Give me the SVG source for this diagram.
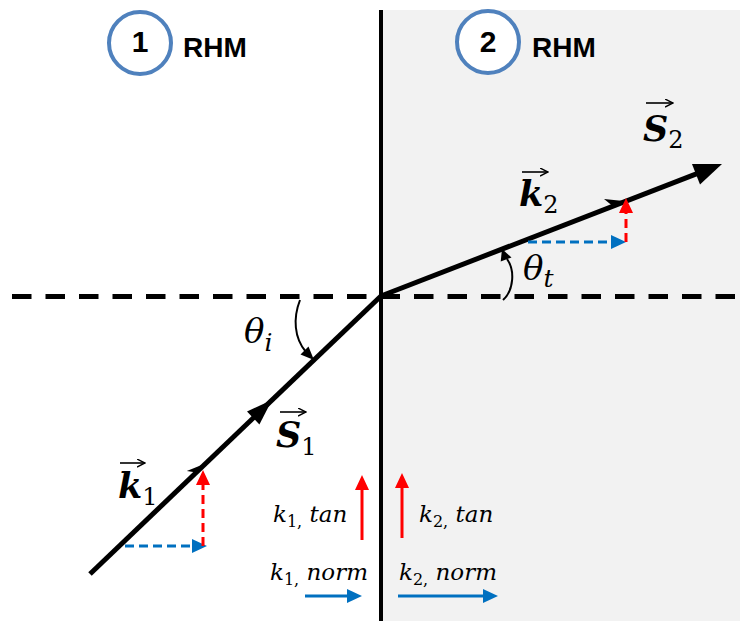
<svg xmlns="http://www.w3.org/2000/svg" width="740" height="621" viewBox="0 0 740 621">
<style>
.lbl{font-family:"DejaVu Serif","Liberation Serif",serif;font-style:italic;font-size:23px;fill:#000}
.sub{font-family:"DejaVu Serif","Liberation Serif",serif;font-style:normal;font-size:16px}
.vec{font-family:"DejaVu Serif","Liberation Serif",serif;font-style:italic;font-weight:bold;font-size:35px;fill:#000}
.vsub{font-family:"DejaVu Serif","Liberation Serif",serif;font-style:normal;font-weight:normal;font-size:24px;fill:#000}
.th{font-family:"DejaVu Serif","Liberation Serif",serif;font-style:italic;font-size:34px;fill:#000}
.ths{font-family:"DejaVu Serif","Liberation Serif",serif;font-style:italic;font-size:25px;fill:#000}
.rhm{font-family:"Liberation Sans",Arial,sans-serif;font-weight:bold;font-size:28px;fill:#000}
.num{font-family:"Liberation Sans",Arial,sans-serif;font-weight:bold;font-size:30px;fill:#000;text-anchor:middle}
.circ{fill:#fff;stroke:#4f81bd;stroke-width:4}
.ray{stroke:#000;stroke-width:5;fill:none}
.red{stroke:#ff0000;stroke-width:3;fill:none}
.blue{stroke:#0070c0;stroke-width:3;fill:none}
.dash{stroke-dasharray:9 5}
.arc{stroke:#000;stroke-width:2;fill:none}
.va{stroke:#000;stroke-width:1.6;fill:none}
</style>
<defs>
<marker id="mr" markerUnits="userSpaceOnUse" viewBox="0 0 15 14" markerWidth="15" markerHeight="14" refX="0" refY="7" orient="auto"><path d="M0,0 L15,7 L0,14 z" fill="#ff0000"/></marker>
<marker id="mb" markerUnits="userSpaceOnUse" viewBox="0 0 15 14" markerWidth="15" markerHeight="14" refX="0" refY="7" orient="auto"><path d="M0,0 L15,7 L0,14 z" fill="#0070c0"/></marker>
<marker id="mv" markerUnits="userSpaceOnUse" viewBox="0 0 9 9" markerWidth="9" markerHeight="9" refX="8" refY="4.5" orient="auto"><path d="M0,0.5 L8,4.5 L0,8.5" fill="none" stroke="#000" stroke-width="1.4"/></marker>
</defs>
<rect x="381" y="10" width="359" height="611" fill="#f2f2f2"/>
<g id="connectors">
<line x1="12" y1="296.5" x2="740" y2="296.5" stroke="#000" stroke-width="5" stroke-dasharray="19.5 14"/>
<line x1="381" y1="10" x2="381" y2="621" stroke="#000" stroke-width="4"/>
<line class="ray" x1="90" y1="574" x2="381" y2="296"/>
<line class="ray" x1="381" y1="296" x2="697" y2="173.6"/>
<polygon points="722,164 700,184.4 692,163.9" fill="#000"/>
<polygon points="272,400 259.4,424.5 247,411.5" fill="#000"/>
<polygon points="206,463.3 186.8,471 196.5,472.4" fill="#000"/>
<polygon points="626,201.2 604,199 613,206.3" fill="#000"/>
<path class="arc" d="M300,300 C293,318 294,338 306,352"/>
<polygon points="314,360 300.5,354.5 308.5,346.5" fill="#000"/>
<path class="arc" d="M503,300 C514,290 515,270 507,259"/>
<polygon points="502,249 511.5,257.5 500.7,261.5" fill="#000"/>
<line class="blue dash" x1="125" y1="546" x2="192" y2="546" marker-end="url(#mb)"/>
<line class="red dash" x1="203" y1="546" x2="203" y2="485" marker-end="url(#mr)"/>
<line class="blue dash" x1="528" y1="242" x2="611" y2="242" marker-end="url(#mb)"/>
<line class="red dash" x1="626" y1="242" x2="626" y2="213" marker-end="url(#mr)"/>
<line class="red" x1="362" y1="540" x2="362" y2="490" marker-end="url(#mr)"/>
<line class="red" x1="402" y1="538" x2="402" y2="488" marker-end="url(#mr)"/>
<line class="blue" x1="305" y1="596" x2="347" y2="596" marker-end="url(#mb)"/>
<line class="blue" x1="398" y1="596" x2="483" y2="596" marker-end="url(#mb)"/>
</g>
<g id="region1">
<circle class="circ" cx="140" cy="43" r="31"/>
<text class="num" x="140" y="52">1</text>
<text class="rhm" x="183" y="57">RHM</text>
</g>
<g id="region2">
<circle class="circ" cx="488" cy="42" r="31"/>
<text class="num" x="488" y="52">2</text>
<text class="rhm" x="532" y="57">RHM</text>
</g>
<g id="S1">
<line class="va" x1="280" y1="412" x2="306" y2="412" marker-end="url(#mv)"/>
<text class="vec" x="276" y="447">S<tspan class="vsub" dy="8">1</tspan></text>
</g>
<g id="k1">
<line class="va" x1="120" y1="463" x2="145" y2="463" marker-end="url(#mv)"/>
<text class="vec" x="118" y="498">k<tspan class="vsub" dy="7">1</tspan></text>
</g>
<g id="k2">
<line class="va" x1="522" y1="172" x2="548" y2="172" marker-end="url(#mv)"/>
<text class="vec" x="519" y="206">k<tspan class="vsub" dy="7">2</tspan></text>
</g>
<g id="S2">
<line class="va" x1="646" y1="103" x2="673" y2="103" marker-end="url(#mv)"/>
<text class="vec" x="643" y="141">S<tspan class="vsub" dy="7">2</tspan></text>
</g>
<g id="theta_i">
<text class="th" x="244" y="343">θ<tspan class="ths" dy="8">i</tspan></text>
</g>
<g id="theta_t">
<text class="th" x="523" y="280">θ<tspan class="ths" dy="7">t</tspan></text>
</g>
<g id="labels">
<text class="lbl" x="273" y="522">k<tspan class="sub" dy="5">1,</tspan><tspan dy="-5"> tan</tspan></text>
<text class="lbl" x="419" y="522">k<tspan class="sub" dy="5">2,</tspan><tspan dy="-5"> tan</tspan></text>
<text class="lbl" x="270" y="580">k<tspan class="sub" dy="5">1,</tspan><tspan dy="-5"> norm</tspan></text>
<text class="lbl" x="399" y="580">k<tspan class="sub" dy="5">2,</tspan><tspan dy="-5"> norm</tspan></text>
</g>
</svg>
